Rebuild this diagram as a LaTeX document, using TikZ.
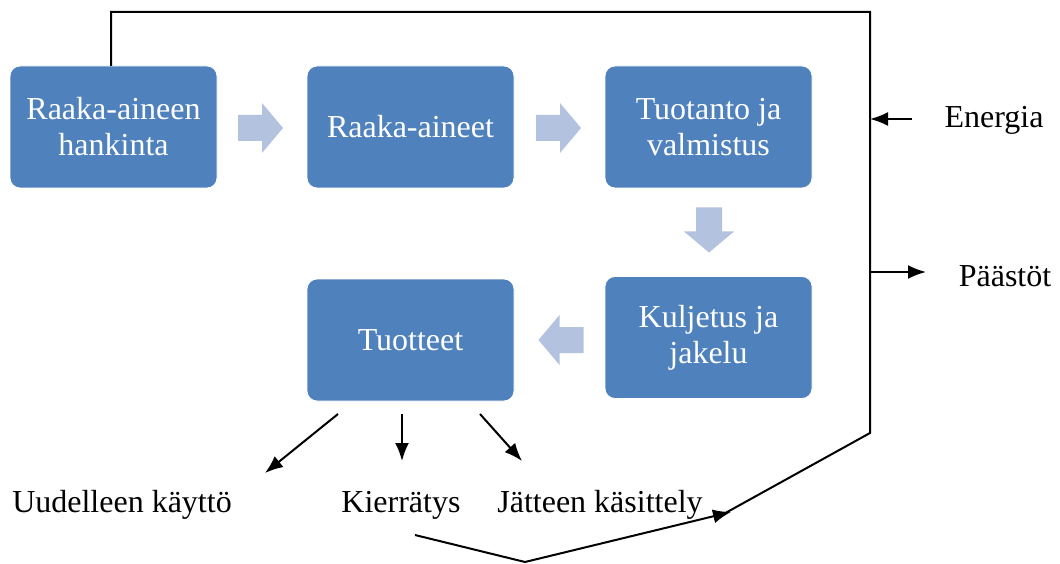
\documentclass[tikz,border=0pt]{standalone}
\usepackage{fontspec}
\setmainfont{Liberation Serif}
\usetikzlibrary{arrows.meta}
\definecolor{boxblue}{HTML}{4F81BD}
\definecolor{arrowblue}{HTML}{B3C3DF}
\tikzset{
  stage/.style={draw=white, line width=0.8pt, fill=boxblue, rounded corners=10pt,
    minimum width=207pt, minimum height=122pt, inner sep=0pt, align=center,
    text=white, font=\fontsize{32}{36}\selectfont},
  label/.style={inner sep=0pt, font=\fontsize{32}{36}\selectfont, anchor=base},
  conn/.style={line width=2pt, -{Latex[length=18pt,width=14pt]}},
  wire/.style={line width=2pt},
  pics/flowarrow/.style={code={
    \fill[arrowblue] (-22.5,-13) -- (1.5,-13) -- (1.5,-25) -- (22.5,0)
      -- (1.5,25) -- (1.5,13) -- (-22.5,13) -- cycle;}}
}
\begin{document}
\begin{tikzpicture}[x=1pt,y=-1pt]
\useasboundingbox (0,0) rectangle (1060,564);

% process stages
\node[stage] (hank) at (113.5,127) {Raaka-aineen\\hankinta};
\node[stage] (raaka) at (410.5,127) {Raaka-aineet};
\node[stage] (tuot) at (708.5,127) {Tuotanto ja\\valmistus};
\node[stage] (kulj) at (708.5,337.5) {Kuljetus ja\\jakelu};
\node[stage] (tuotteet) at (410.5,340) {Tuotteet};

% block arrows between stages
\pic at (260.5,128) {flowarrow};
\pic at (558.5,128) {flowarrow};
\pic[rotate=-90] at (709,230) {flowarrow};
\pic[rotate=180] at (561,340) {flowarrow};

% end-of-life labels
\node[label] (uud) at (122,512) {Uudelleen käyttö};
\node[label] (kier) at (401,512) {Kierrätys};
\node[label] (jat) at (600,512) {Jätteen käsittely};
\node[label] (ener) at (994,128) {Energia};
\node[label] (paas) at (1005,286) {Päästöt};

% connector points
\coordinate (loopstart) at (111,66);
\coordinate (tl) at (111,12);
\coordinate (tr) at (870,12);
\coordinate (br) at (870,433);
\coordinate (enin) at (912,119);
\coordinate (enhit) at (870,119);
\coordinate (paout) at (870,272);
\coordinate (pahit) at (926,272);
\coordinate (u0) at (338,414);
\coordinate (u1) at (265,473);
\coordinate (k0) at (402,414);
\coordinate (k1) at (402,461);
\coordinate (j0) at (480,414);
\coordinate (j1) at (522,461);
\coordinate (r0) at (415,535);
\coordinate (r1) at (525,562);
\coordinate (r2) at (731,512);
\coordinate (rj) at (720,516);

% life-cycle loop
\draw[wire] (loopstart) -- (tl) -- (tr) -- (br) -- (rj);
\draw[conn] (enin) -- (enhit);
\draw[conn] (paout) -- (pahit);

% outputs of the products
\draw[conn] (u0) -- (u1);
\draw[conn] (k0) -- (k1);
\draw[conn] (j0) -- (j1);
\draw[conn] (r0) -- (r1) -- (r2);
\end{tikzpicture}
\end{document}
